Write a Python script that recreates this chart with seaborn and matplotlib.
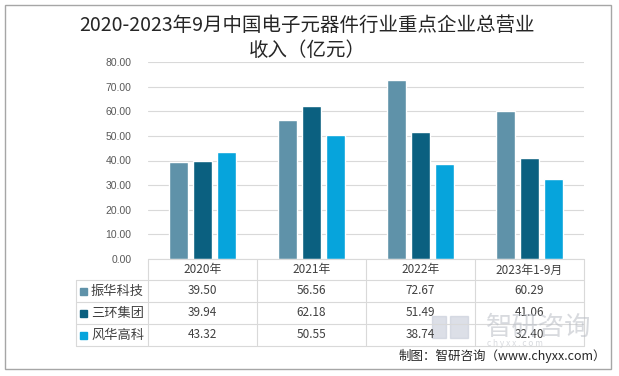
import matplotlib
matplotlib.use("Agg")
import matplotlib.pyplot as plt
import matplotlib.patches as mpatches
import seaborn as sns
import pandas as pd

# data
years = ['2020年', '2021年', '2022年', '2023年1-9月']
companies = ['振华科技', '三环集团', '风华高科']
zhenhua = [39.50, 56.56, 72.67, 60.29]
sanhuan = [39.94, 62.18, 51.49, 41.06]
fenghua = [43.32, 50.55, 38.74, 32.40]
colors = ['#5f92a9', '#0b6080', '#06a4dc']

sns.set_theme(style='white')
plt.rcParams['font.family'] = ['Noto Sans CJK SC', 'DejaVu Sans']

df = pd.DataFrame({
    'year': years * 3,
    'company': [c for c in companies for _ in years],
    'value': zhenhua + sanhuan + fenghua,
})

W, H = 619, 376
fig = plt.figure(figsize=(W / 100, H / 100), dpi=100)

def px(x0, y0, x1, y1):
    # pixel box (top-left origin) -> figure fraction
    return [x0 / W, 1 - y1 / H, (x1 - x0) / W, (y1 - y0) / H]

# outer border
fig.patches.append(mpatches.Rectangle((5 / W, 1 - 369 / H), 606 / W, 364 / H,
                                      transform=fig.transFigure, fill=False,
                                      edgecolor='#a6a6a6', linewidth=1))

ax = fig.add_axes(px(148, 62, 584, 259))
sns.barplot(data=df, x='year', y='value', hue='company', palette=colors,
            width=0.66, gap=0.21, saturation=1, ax=ax, legend=False)
ax.set_ylim(0, 80)
ax.set_xlim(-0.5, 3.5)
ax.set_yticks(range(0, 81, 10))
ax.set_yticklabels([f'{v:.2f}' for v in range(0, 81, 10)],
                   family='Liberation Sans', fontsize=7.5, color='#595959')
ax.tick_params(axis='y', length=0, pad=12)
ax.set_xticks([])
ax.set_xlabel('')
ax.set_ylabel('')
ax.yaxis.grid(True, color='#d9d9d9', linewidth=0.8)
ax.set_axisbelow(True)
for s in ax.spines.values():
    s.set_visible(False)

# data table under the chart
tab = fig.add_axes(px(0, 0, W, H))
tab.set_xlim(0, W)
tab.set_ylim(H, 0)
tab.axis('off')
tab.patch.set_alpha(0)
gc = '#d9d9d9'
cols = [148, 257, 366, 475, 584]
rows = [259, 280, 302, 324, 346]
tab.plot([148, 584], [259, 259], color=gc, lw=0.8)
for y in rows[1:]:
    tab.plot([76, 584], [y, y], color=gc, lw=0.8)
tab.plot([76, 76], [280, 346], color=gc, lw=0.8)
for x in cols:
    tab.plot([x, x], [259, 346], color=gc, lw=0.8)
for i, yr in enumerate(years):
    cx = (cols[i] + cols[i + 1]) / 2
    tab.text(cx, 270, yr, ha='center', va='center', fontsize=8.5, color='#404040')
series = [zhenhua, sanhuan, fenghua]
for r, (name, vals, c) in enumerate(zip(companies, series, colors)):
    cy = (rows[r + 1] + rows[r + 2]) / 2
    tab.add_patch(mpatches.Rectangle((80, cy - 3.5), 7, 7, color=c))
    tab.text(91, cy, name, ha='left', va='center', fontsize=9.5, color='#404040')
    for i, v in enumerate(vals):
        cx = (cols[i] + cols[i + 1]) / 2
        tab.text(cx, cy, f'{v:.2f}', ha='center', va='center', fontsize=8.5, color='#404040')

# watermark
tab.add_patch(mpatches.Rectangle((432, 316), 14, 22, color='#c5cbd8', alpha=0.6))
tab.add_patch(mpatches.Rectangle((450, 316), 18, 22, color='#c5cbd8', alpha=0.6))
tab.text(539, 327, '智研咨询', ha='center', va='center', fontsize=19, color='#b8bcc4', alpha=0.55)
tab.text(515, 344, 'c h y x x . c o m', ha='center', va='center', fontsize=6, color='#b8bcc4', alpha=0.55)

# title and source
tab.text(307, 25, '2020-2023年9月中国电子元器件行业重点企业总营业', ha='center', va='center',
         fontsize=14, color='#262626')
tab.text(307, 50, '收入（亿元）', ha='center', va='center', fontsize=14, color='#262626')
tab.text(606, 356, '制图：智研咨询（www.chyxx.com）', ha='right', va='center',
         fontsize=9, color='#262626')

fig.savefig('out.png', dpi=100)
